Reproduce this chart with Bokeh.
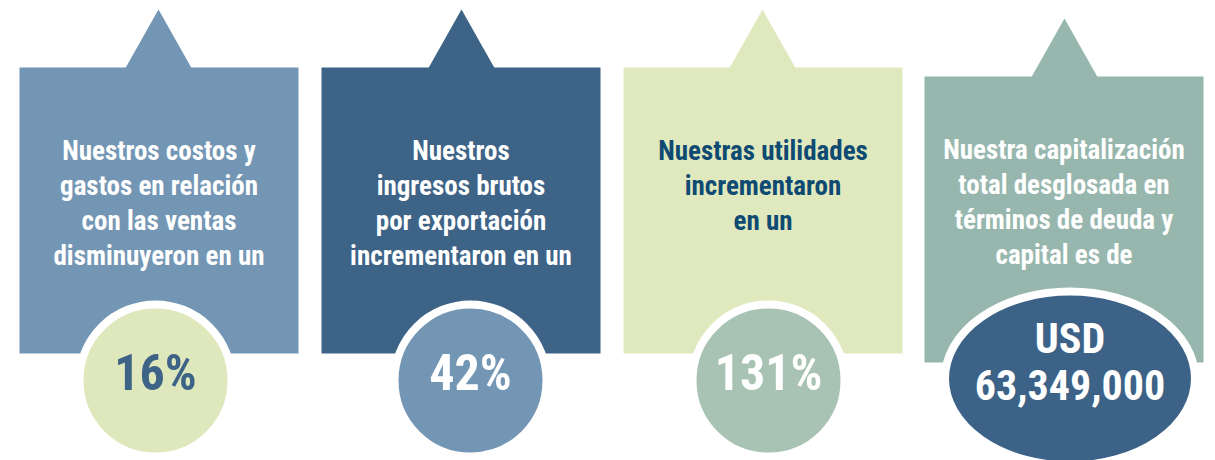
from bokeh.plotting import figure
from bokeh.models import Range1d
from bokeh.core.properties import value
from bokeh.embed import file_html
from bokeh.resources import INLINE

# ---- data ----
captions = [
    ["Nuestros costos y", "gastos en relación", "con las ventas", "disminuyeron en un"],
    ["Nuestros", "ingresos brutos", "por exportación", "incrementaron en un"],
    ["Nuestras utilidades", "incrementaron", "en un"],
    ["Nuestra capitalización", "total desglosada en", "términos de deuda y", "capital es de"],
]
figures_txt = [["16%"], ["42%"], ["131%"], ["USD", "63,349,000"]]
panel_colors = ["#7496B5", "#3D6387", "#E0E9BE", "#97B7AE"]
caption_colors = ["#FFFFFF", "#FFFFFF", "#0E4A72", "#FFFFFF"]
badge_colors = ["#DFE8BD", "#7496B5", "#A8C2B4", "#3C6287"]
badge_text_colors = ["#3D6387", "#FFFFFF", "#FFFFFF", "#FFFFFF"]

FONT = value("Roboto Condensed")

W, H = 1215, 460
p = figure(width=W, height=H, output_backend="svg", toolbar_location=None,
           x_range=Range1d(0, W), y_range=Range1d(H, 0),
           min_border=0, outline_line_color=None)
p.axis.visible = False
p.grid.visible = False
p.background_fill_color = "white"
p.border_fill_color = "white"

# layout (pixel geometry)
lefts = [19, 321, 623, 924]
pw = 279
tops = [67, 67, 67, 76]
bottoms = [353, 353, 353, 362]
apex_x = [158, 461, 762, 1064]
apex_y = [9, 9, 9, 18]
tri_half = 33
badge_cx = [155, 470, 768, 1069.5]
badge_cy = [380, 380, 380, 378]
line_gap = 35
cap_y0 = [150, 150, 150, 149]

for i in range(4):
    p.quad(left=lefts[i], right=lefts[i] + pw, top=tops[i], bottom=bottoms[i],
           fill_color=panel_colors[i], line_color=None)
    p.patch([apex_x[i] - tri_half, apex_x[i], apex_x[i] + tri_half],
            [tops[i] + 0.5, apex_y[i], tops[i] + 0.5],
            fill_color=panel_colors[i], line_color=None)
    cx = lefts[i] + pw / 2
    ys = [cap_y0[i] + k * line_gap for k in range(len(captions[i]))]
    p.text(x=[cx] * len(ys), y=ys, text=captions[i], text_font=FONT,
           text_font_style="bold", text_font_size="27px",
           text_color=caption_colors[i], text_align="center",
           text_baseline="middle")

# badges
for i in range(3):
    p.circle(x=[badge_cx[i]], y=[badge_cy[i]], radius=76,
             fill_color=badge_colors[i], line_color="white", line_width=8)
    p.text(x=[badge_cx[i]], y=[372], text=figures_txt[i], text_font=FONT,
           text_font_style="bold", text_font_size="50px",
           text_color=badge_text_colors[i], text_align="center",
           text_baseline="middle")

p.ellipse(x=[badge_cx[3]], y=[badge_cy[3]], width=250, height=174,
          fill_color=badge_colors[3], line_color="white", line_width=8)
p.text(x=[badge_cx[3]] * 2, y=[338, 384], text=figures_txt[3], text_font=FONT,
       text_font_style="bold", text_font_size="42px",
       text_color=badge_text_colors[3], text_align="center",
       text_baseline="middle")

open("out.html", "w").write(file_html(p, INLINE))
